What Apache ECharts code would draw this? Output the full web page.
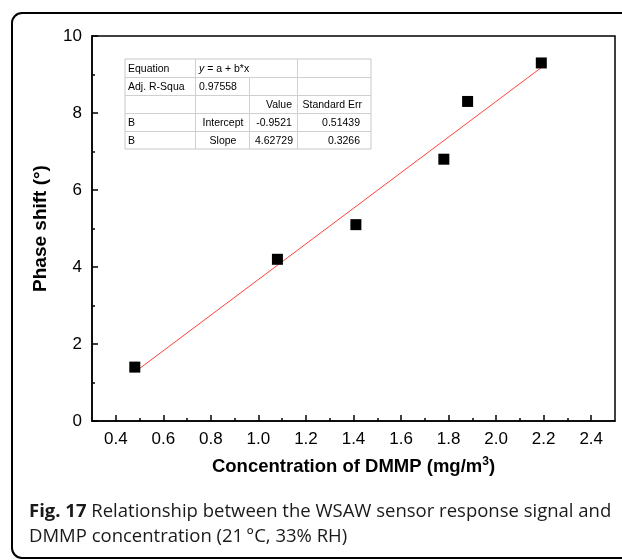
<!DOCTYPE html>
<html>
<head>
<meta charset="utf-8">
<script src="https://cdn.jsdelivr.net/npm/echarts@6/dist/echarts.min.js"></script>
<style>html,body{margin:0;padding:0;background:#fff;}#c{width:622px;height:560px;}</style>
</head>
<body>
<div id="c"></div>
<script>
// Data
var concX = [0.48, 1.08, 1.41, 1.78, 1.88, 2.19];
var phaseY = [1.4, 4.2, 5.1, 6.8, 8.3, 9.3];
var fitX = [0.48, 2.19];
var fitY = [1.27, 9.18];
var xMajorTicks = [0.4, 0.6, 0.8, 1.0, 1.2, 1.4, 1.6, 1.8, 2.0, 2.2, 2.4];
var xMinorTicks = [0.5, 0.7, 0.9, 1.1, 1.3, 1.5, 1.7, 1.9, 2.1, 2.3];
var tableRows = [
  ['Equation', 'y = a + b*x', '', ''],
  ['Adj. R-Squa', '0.97558', '', ''],
  ['', '', 'Value', 'Standard Err'],
  ['B', 'Intercept', '-0.9521', '0.51439'],
  ['B', 'Slope', '4.62729', '0.3266']
];
var captionBold = 'Fig. 17';
var captionLine1 = ' Relationship between the WSAW sensor response signal and';
var captionLine2 = 'DMMP concentration (21\u2009°C, 33% RH)';

var chart = echarts.init(document.getElementById('c'), null, {renderer: 'canvas'});
var F = 'Liberation Sans, Arial, Helvetica, sans-serif';

// table graphics
var tx = [125, 195, 249, 297, 371];
var ty = [59, 77, 95, 113, 131, 149];
var tableEls = [];
tableEls.push({type: 'rect', shape: {x: tx[0], y: ty[0], width: tx[4] - tx[0], height: ty[5] - ty[0]}, style: {fill: '#fff', stroke: '#c8c8c8', lineWidth: 1}});
for (var i = 1; i < 5; i++) {
  tableEls.push({type: 'line', shape: {x1: tx[0], y1: ty[i] + 0.5, x2: tx[4], y2: ty[i] + 0.5}, style: {stroke: '#d0d0d0', lineWidth: 1}});
}
for (var j = 1; j < 4; j++) {
  tableEls.push({type: 'line', shape: {x1: tx[j] + 0.5, y1: (j === 2 ? ty[1] : ty[0]), x2: tx[j] + 0.5, y2: ty[5]}, style: {stroke: '#d0d0d0', lineWidth: 1}});
}
function cellText(r, c, txt) {
  if (!txt) return null;
  var cy = (ty[r] + ty[r + 1]) / 2 + 1;
  var x, align = 'left';
  if (c === 0) { x = tx[0] + 3; }
  else if (c === 1) {
    if (r >= 3) { x = (tx[1] + tx[2]) / 2 + 1; align = 'center'; }
    else { x = tx[1] + 4; }
  }
  else if (c === 2) {
    if (r === 2) { x = tx[3] - 5; align = 'right'; }
    else { x = (tx[2] + tx[3]) / 2 + 1; align = 'center'; }
  }
  else { x = tx[4] - 11; align = 'right'; if (r === 2) { x = tx[4] - 9; } }
  var el = {type: 'text', x: x, y: cy, style: {text: txt, font: '10.5px ' + F, fill: '#000', textAlign: align, textVerticalAlign: 'middle'}};
  if (r === 0 && c === 1) {
    el.style.text = '{i|y} = a + b*x';
    el.style.rich = {i: {fontStyle: 'italic', fontSize: 10.5, fontFamily: F}};
  }
  return el;
}
for (var r = 0; r < tableRows.length; r++) {
  for (var c = 0; c < 4; c++) {
    var e = cellText(r, c, tableRows[r][c]);
    if (e) tableEls.push(e);
  }
}

var option = {
  backgroundColor: '#fff',
  animation: false,
  grid: {left: 92, right: 7, top: 36, bottom: 139, show: true, borderColor: '#000', borderWidth: 1.5, backgroundColor: 'transparent'},
  xAxis: [{
    type: 'value', min: 0.3, max: 2.5,
    position: 'bottom',
    axisLine: {show: true, onZero: false, lineStyle: {color: '#000', width: 1.5}},
    axisTick: {show: true, inside: true, length: 6, customValues: xMajorTicks, lineStyle: {color: '#000', width: 1.5}},
    axisLabel: {show: true, customValues: xMajorTicks, color: '#000', fontSize: 17, fontFamily: F, margin: 10,
      formatter: function (v) { return v.toFixed(1); }},
    splitLine: {show: false},
    name: 'Concentration of DMMP (mg/m{sup|3})',
    nameLocation: 'middle', nameGap: 35,
    nameTextStyle: {color: '#000', fontSize: 18.5, fontWeight: 'bold', fontFamily: F,
      rich: {sup: {fontSize: 12, fontWeight: 'bold', fontFamily: F, color: '#000', verticalAlign: 'top', lineHeight: 21}}}
  }, {
    type: 'value', min: 0.3, max: 2.5,
    position: 'bottom',
    axisLine: {show: false, onZero: false},
    axisTick: {show: true, inside: true, length: 3, customValues: xMinorTicks, lineStyle: {color: '#000', width: 1.5}},
    axisLabel: {show: false},
    splitLine: {show: false}
  }],
  yAxis: {
    type: 'value', min: 0, max: 10, interval: 2,
    axisLine: {show: true, onZero: false, lineStyle: {color: '#000', width: 1.5}},
    axisTick: {show: true, inside: true, length: 6, lineStyle: {color: '#000', width: 1.5}},
    minorTick: {show: true, splitNumber: 2, length: 3, lineStyle: {color: '#000', width: 1.5}},
    axisLabel: {color: '#000', fontSize: 17, fontFamily: F, margin: 10},
    splitLine: {show: false},
    name: 'Phase shift (°)',
    nameLocation: 'middle', nameGap: 42,
    nameTextStyle: {color: '#000', fontSize: 19, fontWeight: 'bold', fontFamily: F}
  },
  series: [{
    type: 'line',
    data: fitX.map(function (x, i) { return [x, fitY[i]]; }),
    symbol: 'none',
    lineStyle: {color: '#ff4040', width: 1},
    z: 2
  }, {
    type: 'scatter',
    data: concX.map(function (x, i) { return [x, phaseY[i]]; }),
    symbol: 'rect', symbolSize: 11,
    itemStyle: {color: '#000', opacity: 1},
    z: 3
  }],
  graphic: [{
    type: 'rect', z: -10, silent: true,
    shape: {x: 12, y: 13, width: 660, height: 545, r: 10},
    style: {fill: 'none', stroke: '#000', lineWidth: 2}
  }, {
    type: 'group', children: tableEls
  }, {
    type: 'text', x: 29, y: 512,
    style: {
      text: '{b|' + captionBold + '}' + captionLine1,
      rich: {b: {fontWeight: 'bold', fontSize: 18.5, fontFamily: 'Open Sans', fill: '#1a1a1a'}},
      font: '18.5px Open Sans', fill: '#1a1a1a', textVerticalAlign: 'middle'
    }
  }, {
    type: 'text', x: 29, y: 537,
    style: {text: captionLine2, font: '18.5px Open Sans', fill: '#1a1a1a', textVerticalAlign: 'middle'}
  }]
};
chart.setOption(option);
</script>
</body>
</html>
